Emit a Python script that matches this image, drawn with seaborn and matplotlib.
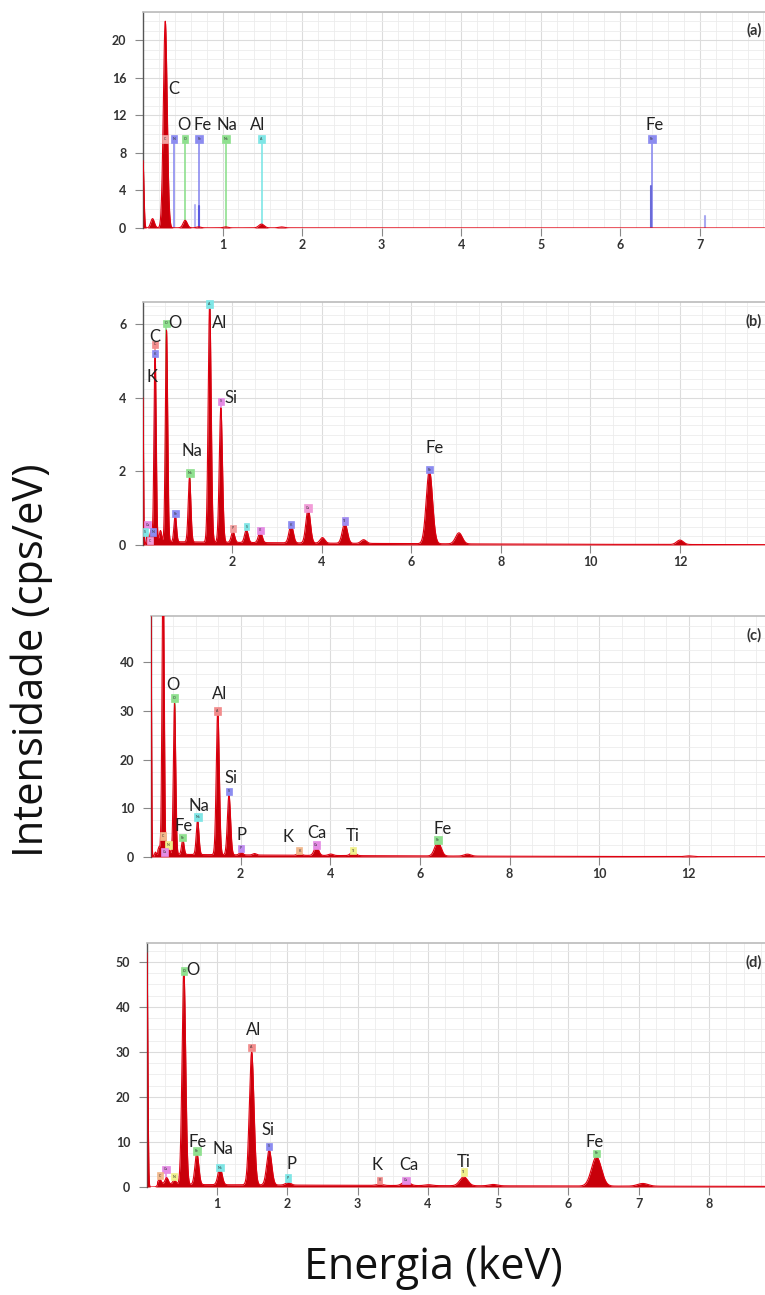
import numpy as np
import pandas as pd
import matplotlib
matplotlib.use("Agg")
import matplotlib.pyplot as plt
from matplotlib.ticker import MultipleLocator
import seaborn as sns

# ---------------- data ----------------
# peak centres (keV) and peak heights (cps/eV) per spectrum
A_KEV = [0.0, 0.12, 0.28, 0.53, 0.70, 1.04, 1.49, 1.74]
A_CPS = [7.2, 1.0, 22.0, 0.8, 0.1, 0.1, 0.4, 0.1]

B_KEV = [0.0, 0.10, 0.18, 0.27, 0.39, 0.525, 0.72, 1.04, 1.49, 1.74, 2.01,
         2.31, 2.62, 3.31, 3.69, 4.01, 4.51, 4.93, 6.40, 7.06, 12.0]
B_CPS = [4.0, 0.3, 0.3, 5.2, 0.3, 5.75, 0.75, 1.75, 6.5, 3.65, 0.3,
         0.35, 0.3, 0.5, 0.95, 0.15, 0.55, 0.1, 2.0, 0.3, 0.12]

C_KEV = [0.0, 0.10, 0.18, 0.27, 0.39, 0.525, 0.71, 1.04, 1.49, 1.74, 2.01,
         2.31, 3.31, 3.69, 4.01, 4.51, 6.40, 7.06, 12.0]
C_CPS = [50.0, 1.0, 1.5, 60.0, 1.5, 31.0, 3.1, 7.0, 29.8, 12.3, 0.6,
         0.3, 0.5, 1.8, 0.3, 0.8, 2.9, 0.4, 0.15]

D_KEV = [0.0, 0.18, 0.28, 0.39, 0.525, 0.71, 1.04, 1.49, 1.74, 2.01,
         3.31, 3.69, 4.01, 4.51, 4.93, 6.40, 7.06]
D_CPS = [52.0, 1.2, 1.5, 1.0, 47.5, 7.0, 3.8, 29.5, 7.8, 0.6,
         0.25, 1.0, 0.2, 2.0, 0.3, 6.5, 0.6]

# continuum level (cps/eV)
BACKGROUND = [0.02, 0.10, 0.6, 0.6]

# element labels: (symbol, keV, cps/eV)
A_LABELS = [("C", 0.39, 14.8), ("O", 0.52, 11.0), ("Fe", 0.75, 11.0),
            ("Na", 1.06, 11.0), ("Al", 1.44, 11.0), ("Fe", 6.43, 11.0)]
B_LABELS = [("C", 0.26, 5.66), ("K", 0.20, 4.57), ("O", 0.72, 6.03),
            ("Al", 1.72, 6.03), ("Si", 1.97, 4.0), ("Na", 1.10, 2.54),
            ("Fe", 6.52, 2.63)]
C_LABELS = [("O", 0.49, 35.3), ("Al", 1.54, 33.4), ("Si", 1.79, 16.2),
            ("Na", 1.07, 10.5), ("Fe", 0.72, 6.4), ("P", 2.03, 4.6),
            ("K", 3.05, 4.2), ("Ca", 3.70, 5.0), ("Ti", 4.51, 4.3),
            ("Fe", 6.50, 5.8)]
D_LABELS = [("O", 0.66, 48.2), ("Al", 1.52, 34.9), ("Si", 1.72, 12.7),
            ("Fe", 0.72, 10.1), ("Na", 1.08, 8.4), ("P", 2.06, 5.0),
            ("K", 3.28, 4.9), ("Ca", 3.73, 4.9), ("Ti", 4.51, 5.6),
            ("Fe", 6.37, 10.0)]

# identification tags: (symbol, keV, cps/eV, colour)
A_TAGS = [("C", 0.28, 9.5, "#f2a0a0"), ("N", 0.39, 9.5, "#8c8cf0"),
          ("O", 0.525, 9.5, "#8fe08f"), ("Fe", 0.705, 9.5, "#8c8cf0"),
          ("Na", 1.04, 9.5, "#8fe08f"), ("Al", 1.49, 9.5, "#7fe6e6"),
          ("Fe", 6.40, 9.5, "#8c8cf0")]
B_TAGS = [("C", 0.27, 5.45, "#f28c8c"), ("K", 0.27, 5.2, "#8c8cf0"),
          ("O", 0.525, 6.02, "#8fe08f"), ("Al", 1.49, 6.55, "#7fe6e6"),
          ("Si", 1.74, 3.9, "#e58ce5"), ("Na", 1.04, 1.95, "#8fe08f"),
          ("Fe", 0.72, 0.85, "#8c8cf0"), ("P", 2.01, 0.45, "#f2a0a0"),
          ("S", 2.31, 0.5, "#7fe6e6"), ("Cl", 2.62, 0.4, "#e58ce5"),
          ("K", 3.31, 0.55, "#8c8cf0"), ("Ca", 3.69, 1.0, "#f29cd8"),
          ("Ti", 4.51, 0.65, "#a08cf0"), ("Fe", 6.40, 2.05, "#8c8cf0"),
          ("Ca", 0.10, 0.55, "#e58ce5"), ("S", 0.05, 0.35, "#7fe6e6"),
          ("N", 0.22, 0.35, "#8c8cf0"), ("C", 0.15, 0.12, "#f29cd8")]
C_TAGS = [("O", 0.525, 32.7, "#8fe08f"), ("Al", 1.49, 30.0, "#f28c8c"),
          ("Si", 1.74, 13.5, "#8c8cf0"), ("Na", 1.04, 8.2, "#7fe6e6"),
          ("Fe", 0.71, 4.0, "#8fe08f"), ("P", 2.01, 1.8, "#c08cf0"),
          ("K", 3.31, 1.3, "#f2b88c"), ("Ca", 3.69, 2.5, "#e58ce5"),
          ("Ti", 4.51, 1.3, "#f0f08c"), ("Fe", 6.40, 3.5, "#8fe08f"),
          ("C", 0.27, 4.3, "#f2b88c"), ("N", 0.39, 2.5, "#f0f08c"),
          ("Ca", 0.30, 1.0, "#e58ce5")]
D_TAGS = [("O", 0.525, 48.0, "#8fe08f"), ("Al", 1.49, 31.0, "#f28c8c"),
          ("Si", 1.74, 9.0, "#8c8cf0"), ("Fe", 0.71, 8.0, "#8fe08f"),
          ("Na", 1.04, 4.3, "#7fe6e6"), ("P", 2.01, 2.0, "#7fe6e6"),
          ("K", 3.31, 1.5, "#f28c8c"), ("Ca", 3.69, 1.5, "#e58ce5"),
          ("Ti", 4.51, 3.3, "#f0f08c"), ("Fe", 6.40, 7.5, "#8fe08f"),
          ("Ca", 0.27, 3.9, "#e58ce5"), ("C", 0.18, 2.5, "#f2b88c"),
          ("N", 0.39, 2.3, "#f0f08c")]

# extra marker lines in (a): (keV, height, colour)
A_MARKERS = [(0.65, 2.5, "#b4b4f4"), (0.71, 2.3, "#5a5ae0"),
             (6.39, 4.5, "#6a6ad8"), (7.06, 1.3, "#a8a8f0")]

PANEL_NAMES = ["(a)", "(b)", "(c)", "(d)"]
X_LIMS = [7.82, 13.9, 13.7, 8.8]
Y_LIMS = [23.0, 6.6, 49.5, 54.2]
X_MAJOR = [1, 2, 2, 1]
X_MINOR = [0.2, 0.5, 0.5, 0.25]
Y_MAJOR = [4, 2, 10, 10]
Y_MINOR = [1, 0.25, 2.5, 2.5]

# ---------------- figure ----------------
sns.set_theme(style="white")
plt.rcParams["font.family"] = ["Lato", "DejaVu Sans"]

W, H = 765, 1295
fig = plt.figure(figsize=(W / 100, H / 100), dpi=100)

# axes boxes in pixels: left, top, bottom
BOXES = [(143, 12, 228), (143, 302, 545), (151, 616, 857), (147, 943, 1187)]

RED_FILL = "#c8000a"
RED_EDGE = "#e00010"

peaks = [(A_KEV, A_CPS), (B_KEV, B_CPS), (C_KEV, C_CPS), (D_KEV, D_CPS)]
labels = [A_LABELS, B_LABELS, C_LABELS, D_LABELS]
tags = [A_TAGS, B_TAGS, C_TAGS, D_TAGS]

for i in range(4):
    left, top, bottom = BOXES[i]
    ax = fig.add_axes([left / W, 1 - bottom / H, (W - left) / W, (bottom - top) / H])
    xmax = X_LIMS[i]
    e = np.arange(0, xmax, 0.004)
    kev, cps = peaks[i]
    y = np.zeros_like(e)
    for c, h in zip(kev, cps):
        s = 0.012 if c == 0 else 0.022 + 0.0075 * min(c, 7.0)
        y += h * np.exp(-0.5 * ((e - c) / s) ** 2)
    # low continuum behind the peaks
    y += BACKGROUND[i] * np.exp(-e / 6.0) * (e > 0.15)
    df = pd.DataFrame({"Energia": e, "Intensidade": y})

    ax.set_xlim(0, xmax)
    ax.set_ylim(0, Y_LIMS[i])
    ax.xaxis.set_major_locator(MultipleLocator(X_MAJOR[i]))
    ax.xaxis.set_minor_locator(MultipleLocator(X_MINOR[i]))
    ax.yaxis.set_major_locator(MultipleLocator(Y_MAJOR[i]))
    ax.yaxis.set_minor_locator(MultipleLocator(Y_MINOR[i]))
    ax.grid(which="major", color="#dcdcdc", lw=0.8)
    ax.grid(which="minor", color="#ececec", lw=0.6)
    ax.set_axisbelow(True)

    # marker lines and tags
    for sym, k, v, col in tags[i]:
        ax.plot([k, k], [0, v], color=col, lw=1.2, zorder=2)
    if i == 0:
        for k, v, col in A_MARKERS:
            ax.plot([k, k], [0, v], color=col, lw=1.5, zorder=2)

    ax.fill_between(df["Energia"], 0, df["Intensidade"], color=RED_FILL, lw=0, zorder=3)
    sns.lineplot(data=df, x="Energia", y="Intensidade", ax=ax, color=RED_EDGE,
                 lw=0.8, zorder=4)

    for sym, k, v, col in tags[i]:
        ax.text(k, v, sym, fontsize=2.5, color="#333333", ha="center", va="center",
                zorder=6, bbox=dict(boxstyle="square,pad=0.5", fc=col, ec=col, lw=0.5))

    for sym, k, v in labels[i]:
        ax.text(k, v, sym, fontsize=12, color="#222222", ha="center", va="center",
                zorder=7)

    ax.text(0.995, 0.95, PANEL_NAMES[i], transform=ax.transAxes, ha="right",
            va="top", fontsize=10.5, fontweight="bold", color="#333333", zorder=7)

    ax.set_xlabel("")
    ax.set_ylabel("")
    ticks = [t for t in np.arange(X_MAJOR[i], xmax, X_MAJOR[i])]
    ax.set_xticks(ticks)
    ax.set_xticklabels([f"{t:g}" for t in ticks])
    ax.tick_params(axis="both", which="major", labelsize=9, labelcolor="#333333",
                   color="#888888", length=6, width=0.8, direction="out")
    ax.tick_params(axis="x", which="major", bottom=True, pad=2)
    ax.tick_params(axis="y", which="major", left=True, pad=6)
    ax.tick_params(which="minor", left=False, bottom=False)
    for lab in ax.get_xticklabels() + ax.get_yticklabels():
        lab.set_fontweight("bold")
    for side in ["right", "bottom"]:
        ax.spines[side].set_visible(False)
    ax.spines["left"].set_color("#555555")
    ax.spines["left"].set_linewidth(1.0)
    ax.spines["top"].set_color("#bbbbbb")
    ax.spines["top"].set_linewidth(1.2)

fig.text(32 / W, 1 - 660 / H, "Intensidade (cps/eV)", rotation=90, ha="center",
         va="center", fontsize=30, color="#111111", family=["Open Sans", "DejaVu Sans"])
fig.text(433 / W, 1 - 1268 / H, "Energia (keV)", ha="center", va="center",
         fontsize=31, color="#111111", family=["Open Sans", "DejaVu Sans"])

fig.savefig("out.png", dpi=100, facecolor="white")
